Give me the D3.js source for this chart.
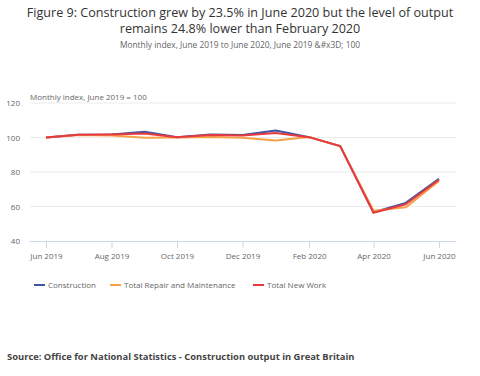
<!DOCTYPE html>
<html>
<head>
<meta charset="utf-8">
<script src="https://cdn.jsdelivr.net/npm/d3@7"></script>
<style>
  body { margin: 0; background: #fff; font-family: "Open Sans", sans-serif; }
  svg text { font-family: "Open Sans", sans-serif; }
</style>
</head>
<body>
<svg id="chart" width="480" height="376"></svg>
<script>
// months, Jun 2019 to Jun 2020
const months = ["2019-06","2019-07","2019-08","2019-09","2019-10","2019-11","2019-12",
                "2020-01","2020-02","2020-03","2020-04","2020-05","2020-06"];
const construction = [100, 101.6, 101.7, 103.3, 100.2, 101.8, 101.5, 104.1, 100.2, 95.0, 56.7, 62.1, 76.0];
const repair       = [100, 101.5, 101.2, 99.8, 100.0, 100.3, 99.8, 98.3, 100.3, 95.0, 57.5, 59.5, 74.8];
const newWork      = [100, 101.6, 101.8, 102.3, 100.1, 101.4, 101.2, 102.6, 100.2, 95.0, 56.4, 61.3, 75.5];
const yTicks = [40, 60, 80, 100, 120];
const xTickLabels = ["Jun 2019","Aug 2019","Oct 2019","Dec 2019","Feb 2020","Apr 2020","Jun 2020"];

const parse = d3.timeParse("%Y-%m");
const dates = months.map(parse);

const series = [
  {name: "Construction", values: construction, color: "#3d55a4"},
  {name: "Total Repair and Maintenance", values: repair, color: "#f6a04a"},
  {name: "Total New Work", values: newWork, color: "#e8393f"}
];

const svg = d3.select("#chart");

// titles
svg.append("text").attr("x", 240).attr("y", 17).attr("text-anchor", "middle")
  .attr("font-size", 12.6).attr("fill", "#333")
  .text("Figure 9: Construction grew by 23.5% in June 2020 but the level of output");
svg.append("text").attr("x", 240).attr("y", 33).attr("text-anchor", "middle")
  .attr("font-size", 12.6).attr("fill", "#333")
  .text("remains 24.8% lower than February 2020");
svg.append("text").attr("x", 240).attr("y", 48).attr("text-anchor", "middle")
  .attr("font-size", 8.4).attr("fill", "#666")
  .text("Monthly index, June 2019 to June 2020, June 2019 &#x3D; 100");

const plotL = 30, plotR = 456, plotT = 103, plotB = 241;

const x = d3.scaleTime()
  .domain([dates[0], dates[dates.length - 1]])
  .range([46, 439]);
const y = d3.scaleLinear().domain([40, 120]).range([plotB, plotT]);

// gridlines
svg.append("g").selectAll("line")
  .data(yTicks.filter(d => d !== 40))
  .enter().append("line")
  .attr("x1", plotL).attr("x2", plotR)
  .attr("y1", d => y(d)).attr("y2", d => y(d))
  .attr("stroke", "#ebebeb").attr("stroke-width", 1);

// y labels
svg.append("g").selectAll("text")
  .data(yTicks)
  .enter().append("text")
  .attr("x", 20).attr("y", d => y(d) + 3)
  .attr("text-anchor", "end")
  .attr("font-size", 8).attr("fill", "#666")
  .text(d => d);

svg.append("text").attr("x", 30).attr("y", 100)
  .attr("font-size", 8).attr("fill", "#666")
  .text("Monthly index, June 2019 = 100");

// x axis
const xAxis = d3.axisBottom(x)
  .tickValues(dates.filter((d, i) => i % 2 === 0))
  .tickFormat((d, i) => xTickLabels[i])
  .tickSize(7).tickSizeOuter(0);
const gx = svg.append("g").attr("transform", `translate(0,${plotB})`).call(xAxis);
gx.select(".domain").attr("d", `M${plotL},0.5H${plotR}`).attr("stroke", "#ccd6eb");
gx.selectAll(".tick line").attr("stroke", "#ccd6eb");
gx.selectAll(".tick text").attr("font-size", 8).attr("fill", "#666").attr("dy", "0.95em")
  .attr("font-family", "Open Sans, sans-serif");

// lines
const line = d3.line()
  .x((d, i) => x(dates[i]))
  .y(d => y(d));

svg.append("g").selectAll("path")
  .data(series)
  .enter().append("path")
  .attr("d", d => line(d.values))
  .attr("fill", "none")
  .attr("stroke", d => d.color)
  .attr("stroke-width", 2)
  .attr("stroke-linejoin", "round");

// legend
const legendX = [34, 110, 253];
const lg = svg.append("g").selectAll("g")
  .data(series)
  .enter().append("g")
  .attr("transform", (d, i) => `translate(${legendX[i]},285)`);
lg.append("line").attr("x1", 0).attr("x2", 11)
  .attr("stroke", d => d.color).attr("stroke-width", 2);
lg.append("text").attr("x", 14).attr("y", 3)
  .attr("font-size", 8).attr("fill", "#666")
  .text(d => d.name);

// source
svg.append("text").attr("x", 7).attr("y", 360)
  .attr("font-size", 9.4).attr("font-weight", "bold").attr("fill", "#444")
  .text("Source: Office for National Statistics - Construction output in Great Britain");
</script>
</body>
</html>
